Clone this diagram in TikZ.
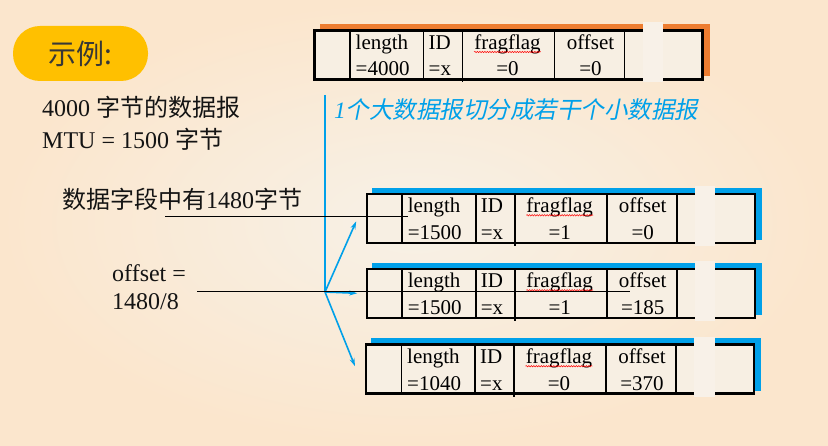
\documentclass[tikz,border=0pt]{standalone}
\usepackage{fontspec}
\setmainfont{Liberation Serif}
\newfontfamily\cjk{Noto Sans CJK SC}
\newfontfamily\cjkslant[FakeSlant=0.2]{Noto Sans CJK SC}
\usetikzlibrary{arrows.meta,decorations.pathmorphing}

\definecolor{bgin}{RGB}{247,241,231}
\definecolor{bgout}{RGB}{251,230,205}
\definecolor{boxfill}{RGB}{247,239,227}
\definecolor{gapcol}{RGB}{248,241,232}
\definecolor{pill}{RGB}{255,192,0}
\definecolor{skyblue}{RGB}{0,160,233}
\definecolor{shadoworange}{RGB}{237,125,49}
\definecolor{ink}{RGB}{20,20,20}

\tikzset{
  txt/.style={inner sep=0pt, text=ink, font=\fontsize{24}{24}\selectfont},
  celltxt/.style={inner sep=0pt, text=black, font=\fontsize{21}{21}\selectfont},
  dbox/.style={draw, fill=boxfill, line width=2.4pt, inner sep=0pt, outer sep=0pt,
    minimum width=388pt, minimum height=49pt, anchor=north west},
  divider/.style={line width=1.8pt},
  gap/.style={fill=gapcol},
  spell/.style={draw=red, line width=0.5pt, decorate,
    decoration={snake, amplitude=0.7pt, segment length=2.5pt}},
  pointer/.style={line width=0.8pt},
  splitline/.style={draw=skyblue, line width=1.8pt},
  splitarrow/.style={draw=skyblue, line width=1.6pt, -{Stealth[length=8pt,width=5pt]}},
}

% one IP datagram header row: name, north-west corner, shadow colour,
% length, fragflag, offset
\newcommand\dgram[6]{%
  \node[dbox] (#1) at (#2) {};
  \begin{scope}[shift={(#1.north west)}]
    \fill[#3] (5,-6.2) rectangle (395.2,-1.2);
    \fill[#3] (389.2,-1.2) rectangle (395.2,46);
    \foreach \dx in {35.5,109,240,310} \draw[divider] (\dx,0) -- (\dx,49);
    \draw[divider] (148,0) -- (148,52);
    \fill[gap] (328,-8) rectangle (348.5,52);
    \node[celltxt, anchor=base west] (#1-len) at (41,19) {length};
    \node[celltxt, anchor=base west] (#1-lenv) at (41,45.5) {=#4};
    \node[celltxt, anchor=base west] (#1-id) at (114,19) {ID};
    \node[celltxt, anchor=base west] (#1-idv) at (114,45.5) {=x};
    \node[celltxt, anchor=base] (#1-ff) at (193,19) {fragflag};
    \node[celltxt, anchor=base] (#1-ffv) at (193,45.5) {=#5};
    \node[celltxt, anchor=base] (#1-off) at (276,19) {offset};
    \node[celltxt, anchor=base] (#1-offv) at (276,45.5) {=#6};
    \draw[spell] ([yshift=-2.5pt]#1-ff.base west) -- ([yshift=-2.5pt]#1-ff.base east);
  \end{scope}}

\begin{document}
\begin{tikzpicture}[x=1pt,y=-1pt]
\useasboundingbox (0,0) rectangle (828,446);
\shade[inner color=bgin, outer color=bgout] (0,0) rectangle (828,446);

% title tag
\node[fill=pill, rounded corners=27pt, minimum width=135pt, minimum height=55pt,
  inner sep=0pt, text=ink!85, font=\cjk\fontsize{28}{28}\selectfont] (tag) at (80.5,53.5) {示例:};

% left-hand notes
\node[txt, anchor=base west] (big) at (42,116.7) {4000 {\cjk 字节的数据报}};
\node[txt, anchor=base west] (mtu) at (42,148.3) {MTU = 1500 {\cjk 字节}};
\node[txt, anchor=base west] (field) at (62,208.3) {{\cjk 数据字段中有}1480{\cjk 字节}};
\node[txt, anchor=base west] (offa) at (112,281.7) {offset =};
\node[txt, anchor=base west] (offb) at (112,310) {1480/8};

% original datagram and its fragments
\dgram{b0}{314.5,30.5}{shadoworange}{4000}{0}{0}
\dgram{b1}{366.7,193.8}{skyblue}{1500}{1}{0}
\dgram{b2}{366.7,268.8}{skyblue}{1500}{1}{185}
\dgram{b3}{366,344.7}{skyblue}{1040}{0}{370}

% fragmentation note
\node[inner sep=0pt, anchor=base west, text=skyblue, font=\fontsize{23.5}{24}\selectfont]
  (note) at (334,119) {\itshape 1{\cjkslant 个大数据报切分成若干个小数据报}};

% splitting lines
\coordinate (ltop) at (325,95);
\coordinate (split) at (325,292);
\draw[splitline] (ltop) -- (split);
\draw[splitarrow] (split) -- ([xshift=-10.5pt,yshift=-3pt]b1.west);
\draw[splitarrow] (split) -- ([xshift=-9.5pt]b2.west);
\draw[splitarrow] (split) -- ([xshift=-11pt,yshift=3pt]b3.west);

% pointer lines from the notes
\coordinate (q1) at (165,216);
\coordinate (q1e) at (408,216);
\coordinate (q2) at (197,291.5);
\coordinate (q2e) at (630,291.5);
\draw[pointer] (q1) -- (q1e);
\draw[pointer] (q2) -- (q2e);
\end{tikzpicture}
\end{document}
